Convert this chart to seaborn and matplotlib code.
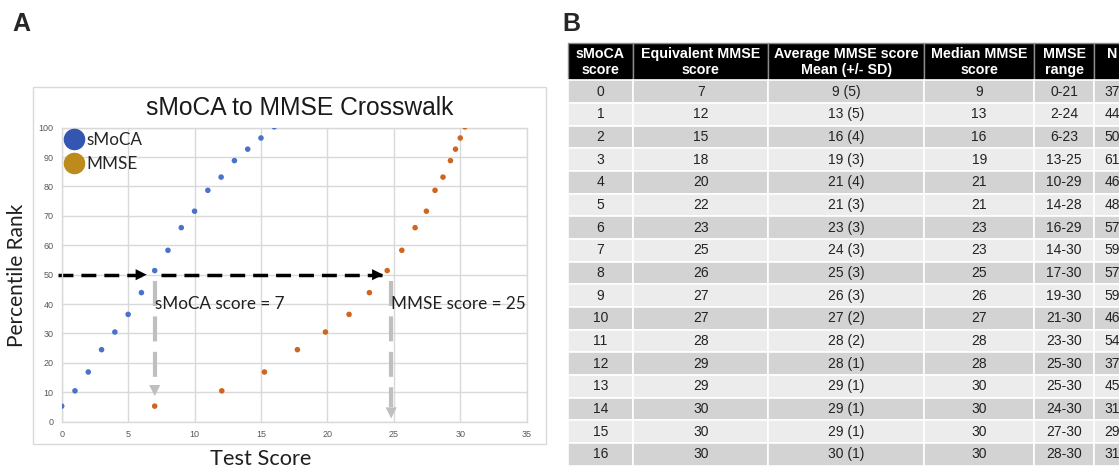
import numpy as np
import pandas as pd
import matplotlib
matplotlib.use('Agg')
import matplotlib.pyplot as plt
from matplotlib.lines import Line2D
from matplotlib.patches import Rectangle
import seaborn as sns

# panel A: percentile rank of each score
smoca_score = [0, 1, 2, 3, 4, 5, 6, 7, 8, 9, 10, 11, 12, 13, 14, 15, 16]
mmse_score = [7.0, 12.05, 15.26, 17.74, 19.85, 21.63, 23.16, 24.5, 25.6,
              26.6, 27.45, 28.1, 28.7, 29.26, 29.64, 30.0, 30.35]
percentile = [5.3, 10.5, 16.9, 24.5, 30.5, 36.5, 43.9, 51.4, 58.3,
              66.0, 71.6, 78.7, 83.2, 88.8, 92.7, 96.5, 100.3]

# 50th percentile crosswalk
cut_pct = 50
smoca_cut = 7
mmse_cut = 25

# panel B: table
col_labels = ['sMoCA\nscore', 'Equivalent MMSE\nscore', 'Average MMSE score\nMean (+/- SD)',
              'Median MMSE\nscore', 'MMSE\nrange', 'N\n ']
equiv_mmse = [7, 12, 15, 18, 20, 22, 23, 25, 26, 27, 27, 28, 29, 29, 30, 30, 30]
avg_mmse = ['9 (5)', '13 (5)', '16 (4)', '19 (3)', '21 (4)', '21 (3)', '23 (3)', '24 (3)', '25 (3)',
            '26 (3)', '27 (2)', '28 (2)', '28 (1)', '29 (1)', '29 (1)', '29 (1)', '30 (1)']
median_mmse = [9, 13, 16, 19, 21, 21, 23, 23, 25, 26, 27, 28, 28, 30, 30, 30, 30]
mmse_range = ['0-21', '2-24', '6-23', '13-25', '10-29', '14-28', '16-29', '14-30', '17-30',
              '19-30', '21-30', '23-30', '25-30', '25-30', '24-30', '27-30', '28-30']
n_subj = [37, 44, 50, 61, 46, 48, 57, 59, 57, 59, 46, 54, 37, 45, 31, 29, 31]

sns.set_theme(style='whitegrid')
plt.rcParams['font.family'] = ['Lato', 'DejaVu Sans']

W, H = 1119, 469
fig = plt.figure(figsize=(W / 100, H / 100), dpi=100)

def fx(px):
    return px / W

def fy(py):
    return 1 - py / H

# ---- panel A ----
ax = fig.add_axes([fx(61.7), fy(421.7), fx(465), 294 / H])
df = pd.DataFrame({'score': smoca_score + mmse_score,
                   'pct': percentile + percentile,
                   'test': ['sMoCA'] * len(smoca_score) + ['MMSE'] * len(mmse_score)})
sns.scatterplot(data=df, x='score', y='pct', hue='test',
                palette={'sMoCA': '#4a72c8', 'MMSE': '#cc6620'},
                s=16, linewidth=0, legend=False, ax=ax, zorder=5)
ax.set_xlim(0, 35)
ax.set_ylim(0, 100)
ax.set_xticks(range(0, 36, 5))
ax.set_yticks(range(0, 101, 10))
ax.grid(color='#d9d9d9', lw=1)
for sp in ax.spines.values():
    sp.set_color('#d9d9d9')
    sp.set_linewidth(1)
ax.tick_params(length=0, pad=6, labelsize=6.5, labelcolor='#595959')
for lab in ax.get_xticklabels() + ax.get_yticklabels():
    lab.set_fontfamily('Liberation Sans')
ax.set_xlabel('')
ax.set_ylabel('')

handles = [Line2D([], [], marker='o', ls='', markersize=14.5, color='#3456b0'),
           Line2D([], [], marker='o', ls='', markersize=14.5, color='#bd8a1c')]
ax.legend(handles, ['sMoCA', 'MMSE'], loc='upper left', bbox_to_anchor=(0.0, 0.985),
          frameon=False, handlelength=1.4, handletextpad=0.05, borderaxespad=0,
          borderpad=0, labelspacing=0.45, fontsize=12.3)

# crosswalk arrows
blk = dict(color='black', lw=2.5, ls=(0, (4.3, 2.3)), solid_capstyle='butt')
ax.plot([-0.3, smoca_cut - 0.7], [cut_pct, cut_pct], clip_on=False, **blk)
ax.plot([smoca_cut + 0.45, mmse_cut - 0.9], [cut_pct, cut_pct], **blk)
gry = dict(color='#bfbfbf', lw=3, ls=(0, (6, 2.5)), solid_capstyle='butt')
ax.plot([smoca_cut, smoca_cut], [cut_pct - 2, 13], **gry)
ax.plot([mmse_cut - 0.2, mmse_cut - 0.2], [cut_pct - 2, 5], **gry)
head = dict(arrowstyle='-|>', mutation_scale=20, lw=0, shrinkA=0, shrinkB=0)
ax.annotate('', xy=(smoca_cut - 0.6, cut_pct), xytext=(smoca_cut - 1.5, cut_pct),
            arrowprops=dict(color='black', **head))
ax.annotate('', xy=(mmse_cut - 0.8, cut_pct), xytext=(mmse_cut - 1.7, cut_pct),
            arrowprops=dict(color='black', **head))
ax.annotate('', xy=(smoca_cut, 8.7), xytext=(smoca_cut, 14),
            arrowprops=dict(color='#bfbfbf', **head))
ax.annotate('', xy=(mmse_cut - 0.2, 1.1), xytext=(mmse_cut - 0.2, 6.5),
            arrowprops=dict(color='#bfbfbf', **head))
ax.text(smoca_cut + 0.05, 40, f'sMoCA score = {smoca_cut}', fontsize=12.3,
        va='center', ha='left', color='#231f20')
ax.text(mmse_cut - 0.2, 40, f'MMSE score = {mmse_cut}', fontsize=12.3,
        va='center', ha='left', color='#231f20')

fig.add_artist(Rectangle((fx(33), fy(444)), fx(513), 357 / H, transform=fig.transFigure,
                         fill=False, edgecolor='#d9d9d9', lw=1))
fig.text(fx(300), fy(108), 'sMoCA to MMSE Crosswalk', fontsize=17.75, ha='center',
         va='center', family='Liberation Sans', color='#1a1a1a')
fig.text(fx(17), fy(275), 'Percentile Rank', fontsize=15, rotation=90,
         ha='center', va='center', color='#231f20')
fig.text(fx(261), fy(459), 'Test Score', fontsize=15.7, ha='center', va='center',
         color='#231f20')
fig.text(fx(12), fy(24), 'A', fontsize=18, weight='bold', family='Liberation Sans',
         ha='left', va='center')
fig.text(fx(562), fy(24), 'B', fontsize=18, weight='bold', family='Liberation Sans',
         ha='left', va='center')

# ---- panel B ----
col_w = [65.6, 135.0, 156.0, 109.7, 60.3, 36.0]
tx = fig.add_axes([fx(567.7), fy(465.7), fx(sum(col_w)), 422.4 / H])
tx.axis('off')
rows = [[str(a), str(b), c, str(d), e, str(f)] for a, b, c, d, e, f in
        zip(smoca_score, equiv_mmse, avg_mmse, median_mmse, mmse_range, n_subj)]
tbl = tx.table(cellText=rows, colLabels=col_labels, colWidths=[w / sum(col_w) for w in col_w],
               cellLoc='center', bbox=[0, 0, 1, 1])
tbl.auto_set_font_size(False)
tbl.set_fontsize(10)
for (r, c), cell in tbl.get_celld().items():
    t = cell.get_text()
    t.set_fontfamily('Liberation Sans')
    if r == 0:
        cell.set_height(37 / 22.6)
        cell.set_facecolor('black')
        cell.set_edgecolor('#8c8c8c')
        cell.set_linewidth(1)
        t.set_color('white')
        t.set_weight('bold')
        t.set_fontsize(10.3)
    else:
        cell.set_height(1.0)
        cell.set_facecolor('#d3d3d3' if r % 2 == 1 else '#ececec')
        cell.set_edgecolor('white')
        cell.set_linewidth(1.2)
        t.set_color('#222222')

fig.savefig('out.png', dpi=100)
